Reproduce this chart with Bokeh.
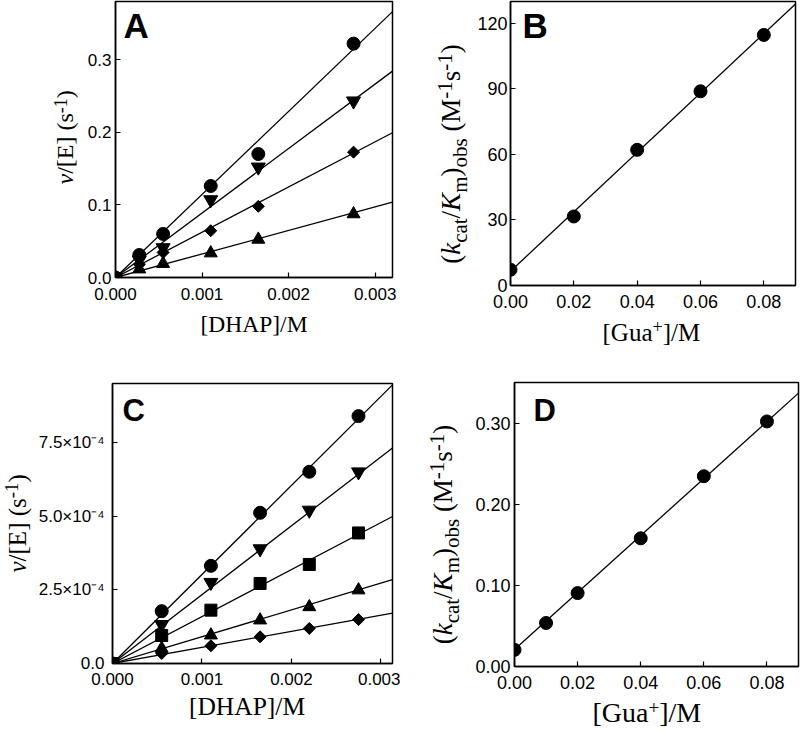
import math
from bokeh.plotting import figure
from bokeh.models import Range1d, FixedTicker, Label, PrintfTickFormatter
from bokeh.layouts import column, row
from bokeh.embed import file_html
from bokeh.resources import INLINE

# ---------------- data ----------------
# Panel A
a_x = [0, 0.000275, 0.00055, 0.0011, 0.00165, 0.00275]
a_circle = [0, 0.031, 0.060, 0.126, 0.170, 0.322]
a_tri_down = [0, 0.024, 0.041, 0.107, 0.152, 0.243]
a_diamond = [0, 0.018, 0.0345, 0.0644, 0.098, 0.1726]
a_tri_up = [0, 0.0115, 0.019, 0.0336, 0.0524, 0.0874]
a_slopes = [114.4, 88.8, 62.3, 32.4]
a_xticks = [0, 0.001, 0.002, 0.003]
a_yticks = [0, 0.1, 0.2, 0.3]

# Panel B
b_x = [0, 0.02, 0.04, 0.06, 0.08]
b_y = [7.2, 31.6, 62.1, 88.9, 114.7]
b_fit = [6.5, 1360.0]
b_xticks = [0, 0.02, 0.04, 0.06, 0.08]
b_yticks = [0, 30, 60, 90, 120]

# Panel C
c_x = [0, 0.00055, 0.0011, 0.00165, 0.0022, 0.00275]
c_circle = [0, 1.776e-4, 3.314e-4, 5.113e-4, 6.505e-4, 8.394e-4]
c_tri_down = [0, 1.32e-4, 2.75e-4, 3.89e-4, 5.20e-4, 6.50e-4]
c_square = [0, 0.95e-4, 1.81e-4, 2.715e-4, 3.36e-4, 4.43e-4]
c_tri_up = [0, 0.51e-4, 0.96e-4, 1.47e-4, 1.92e-4, 2.49e-4]
c_diamond = [0, 0.34e-4, 0.60e-4, 0.905e-4, 1.19e-4, 1.49e-4]
c_slopes = [0.302, 0.2335, 0.1593, 0.0909, 0.0546]
c_xticks = [0, 0.001, 0.002, 0.003]
c_yticks = [0, 0.00025, 0.0005, 0.00075]
c_ytick_labels = ["0.0", "2.5×10⁻⁴", "5.0×10⁻⁴", "7.5×10⁻⁴"]

# Panel D
d_x = [0, 0.01, 0.02, 0.04, 0.06, 0.08]
d_y = [0.0205, 0.0536, 0.0905, 0.158, 0.2345, 0.302]
d_fit = [0.021, 3.51]
d_xticks = [0, 0.02, 0.04, 0.06, 0.08]
d_yticks = [0, 0.1, 0.2, 0.3]

SANS = "Liberation Sans"
SERIF = "Liberation Serif"
KB = 0.42  # offset of the rendered baseline from the anchor, in em

# Times-like advance widths (em) used to lay out rich-text labels
W_REG = {'(': .333, ')': .333, '[': .333, ']': .333, '/': .278, ' ': .25, 'E': .611,
         's': .389, '-': .333, '1': .5, 'M': .889, 'D': .722, 'H': .722, 'A': .722,
         'P': .556, 'G': .722, 'u': .5, 'a': .444, '+': .564, 'c': .444, 't': .278,
         'o': .5, 'b': .5, 'm': .778}
W_IT = {'v': .444, 'k': .444, 'K': .667}


def twidth(s, italic=False):
    tab = W_IT if italic else W_REG
    return sum(tab.get(ch, W_REG.get(ch, .5)) for ch in s)


def add_rich(p, pieces, x0, y0, size, ssize, vertical, center=False):
    """x0,y0: start (or centre) of the baseline, in the figure's frame pixels."""
    total = 0.0
    for text, kind in pieces:
        if kind == "gap":
            total += 0.25 * size
        else:
            fs = ssize if kind in ("sup", "sub") else size
            total += twidth(text, kind == "i") * fs
    pos = -total / 2 if center else 0.0
    for text, kind in pieces:
        if kind == "gap":
            pos += 0.25 * size
            continue
        fs = ssize if kind in ("sup", "sub") else size
        italic = kind == "i"
        w = twidth(text, italic) * fs
        shift = KB * fs
        if kind == "sup":
            shift += 0.33 * size
        elif kind == "sub":
            shift -= 0.22 * size
        if vertical:
            x, y, ang = x0 - shift, y0 + pos, math.pi / 2
        else:
            x, y, ang = x0 + pos, y0 + shift, 0.0
        p.add_layout(Label(x=x, y=y, x_units="screen", y_units="screen", text=text,
                           text_font=SERIF, text_font_size=f"{fs}px",
                           text_font_style="italic" if italic else "normal",
                           text_color="black", angle=ang, text_align="left",
                           text_baseline="alphabetic"))
        pos += w


def label_fig(w, h):
    f = figure(x_range=Range1d(0, w), y_range=Range1d(0, h), frame_width=w, frame_height=h,
               min_border=0, x_axis_location=None, y_axis_location=None,
               output_backend="svg", toolbar_location=None, tools="")
    for r in list(f.center):
        r.visible = False
    f.outline_line_color = None
    f.background_fill_color = "white"
    f.border_fill_color = "white"
    return f


def make_fig(xr, yr, fw, fh, bl, br, bt, bb, xticks, yticks, tick_size, ystand=4, xstand=10):
    p = figure(x_range=Range1d(*xr), y_range=Range1d(*yr), frame_width=fw, frame_height=fh,
               min_border_left=bl, min_border_right=br, min_border_top=bt,
               min_border_bottom=bb, output_backend="svg", toolbar_location=None, tools="")
    p.xgrid.visible = False
    p.ygrid.visible = False
    p.background_fill_color = "white"
    p.border_fill_color = "white"
    p.outline_line_color = "black"
    p.outline_line_width = 1.5
    p.outline_line_alpha = 1.0
    for ax in (p.xaxis[0], p.yaxis[0]):
        ax.axis_line_color = "black"
        ax.axis_line_width = 1.5
        ax.major_tick_in = 5
        ax.major_tick_out = 0
        ax.major_tick_line_color = "black"
        ax.major_tick_line_width = 1.2
        ax.minor_tick_line_color = None
        ax.major_label_text_font = SANS
        ax.major_label_text_font_size = f"{tick_size}px"
        ax.major_label_text_color = "black"
    p.xaxis[0].ticker = FixedTicker(ticks=xticks)
    p.yaxis[0].ticker = FixedTicker(ticks=yticks)
    p.xaxis[0].major_label_standoff = xstand
    p.yaxis[0].major_label_standoff = ystand
    return p


def panel_letter(p, text, x, y, size):
    p.add_layout(Label(x=x, y=y + KB * size, x_units="screen", y_units="screen", text=text,
                       text_font=SANS, text_font_size=f"{size}px", text_font_style="bold",
                       text_color="black", text_align="left", text_baseline="alphabetic"))


def fit_line(p, xmax, a, b):
    p.line([0, xmax], [a, a + b * xmax], line_color="black", line_width=1.3)


kk = [("(", "n"), ("k", "i"), ("cat", "sub"), ("/", "n"), ("K", "i"), ("m", "sub"),
      (")", "n"), ("obs", "sub"), ("", "gap"), ("(M", "n"), ("-1", "sup"), ("s", "n"),
      ("-1", "sup"), (")", "n")]
ve = [("v", "i"), ("/[E] (s", "n"), ("-1", "sup"), (")", "n")]
gua = [("[Gua", "n"), ("+", "sup"), ("]/M", "n")]

# ---------------- Panel A ----------------
A_XMAX, A_YMAX = 0.0032, 0.38
pA = make_fig((0, A_XMAX), (0, A_YMAX), 277, 276, 33, 8, 1, 32, a_xticks, a_yticks, 17)
pA.xaxis[0].formatter = PrintfTickFormatter(format="%.3f")
pA.yaxis[0].formatter = PrintfTickFormatter(format="%.1f")
for s in a_slopes:
    fit_line(pA, A_XMAX, 0, s)
pA.scatter(a_x, a_circle, marker="circle", size=13, color="black")
pA.scatter(a_x, a_tri_down, marker="inverted_triangle", size=14, color="black")
pA.scatter(a_x, a_diamond, marker="square", angle=math.pi / 4, size=8.5, color="black")
pA.scatter(a_x, a_tri_up, marker="triangle", size=13, color="black")
panel_letter(pA, "A", 8, 237, 35)
yA = label_fig(82, 309)
add_rich(yA, ve, 75, 126, 24, 18, True)
xA = label_fig(400, 69)
add_rich(xA, [("[DHAP]/M", "n")], 253.5, 45, 23.5, 18, False, center=True)

# ---------------- Panel B ----------------
B_XMAX, B_YMAX = 0.09, 130
pB = make_fig((0, B_XMAX), (0, B_YMAX), 285, 284, 34, 7, 1, 30, b_xticks, b_yticks, 18, 3, 9)
pB.xaxis[0].formatter = PrintfTickFormatter(format="%.2f")
pB.yaxis[0].formatter = PrintfTickFormatter(format="%d")
fit_line(pB, B_XMAX, b_fit[0], b_fit[1])
pB.scatter(b_x, b_y, marker="circle", size=13, color="black")
panel_letter(pB, "B", 12, 245, 35)
yB = label_fig(74, 315)
add_rich(yB, kk, 62, 162.5, 27, 21, True, center=True)
xB = label_fig(400, 63)
add_rich(xB, gua, 202, 36, 25, 18, False)

# ---------------- Panel C ----------------
C_XMAX, C_YMAX = 0.00313, 9.5e-4
pC = make_fig((0, C_XMAX), (0, C_YMAX), 280, 280, 78, 8, 5, 30, c_xticks, c_yticks, 17, 8, 9)
pC.xaxis[0].formatter = PrintfTickFormatter(format="%.3f")
pC.yaxis[0].major_label_overrides = dict(zip(c_yticks, c_ytick_labels))
for s in c_slopes:
    fit_line(pC, C_XMAX, 0, s)
pC.scatter(c_x, c_circle, marker="circle", size=13, color="black")
pC.scatter(c_x, c_tri_down, marker="inverted_triangle", size=14, color="black")
pC.scatter(c_x, c_square, marker="square", size=12, color="black")
pC.scatter(c_x, c_tri_up, marker="triangle", size=13, color="black")
pC.scatter(c_x, c_diamond, marker="square", angle=math.pi / 4, size=8.5, color="black")
panel_letter(pC, "C", 10, 240, 31)
yC = label_fig(34, 315)
add_rich(yC, ve, 27, 126, 25, 19, True)
xC = label_fig(400, 39)
add_rich(xC, [("[DHAP]/M", "n")], 246.5, 15, 25.5, 19, False, center=True)

# ---------------- Panel D ----------------
D_XMAX, D_YMAX = 0.09, 0.35
pD = make_fig((0, D_XMAX), (0, D_YMAX), 284, 284, 48, 2, 4, 30, d_xticks, d_yticks, 18, 4, 9)
pD.xaxis[0].formatter = PrintfTickFormatter(format="%.2f")
pD.yaxis[0].formatter = PrintfTickFormatter(format="%.2f")
fit_line(pD, D_XMAX, d_fit[0], d_fit[1])
pD.scatter(d_x, d_y, marker="circle", size=13, color="black")
panel_letter(pD, "D", 19, 243, 31)
yD = label_fig(66, 318)
add_rich(yD, kk, 54, 166, 27, 21, True, center=True)
xD = label_fig(400, 36)
add_rich(xD, gua, 192, 8, 28, 19, False)

layout = column(
    row(column(row(yA, pA), xA), column(row(yB, pB), xB)),
    row(column(row(yC, pC), xC), column(row(yD, pD), xD)),
)
open("out.html", "w").write(file_html(layout, INLINE))
